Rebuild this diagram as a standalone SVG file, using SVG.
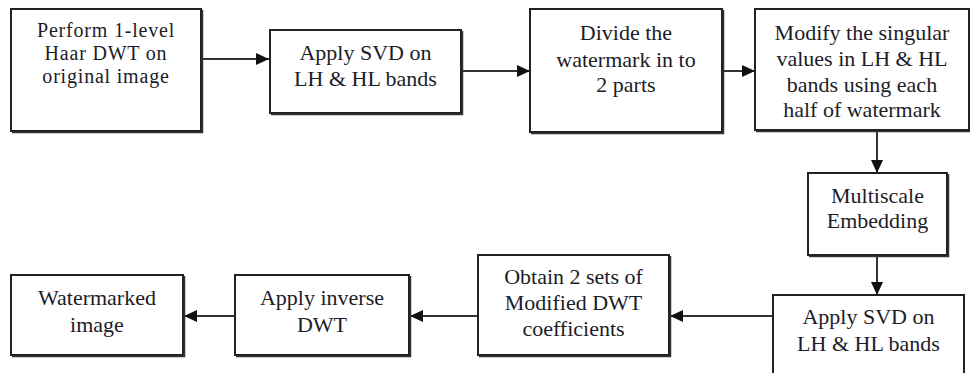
<svg xmlns="http://www.w3.org/2000/svg" width="971" height="373" viewBox="0 0 971 373">
  <style>
    .box { fill: #ffffff; stroke: #222222; stroke-width: 2; }
    .shade { fill: none; stroke: #333333; stroke-width: 1.5; }
    .lbl { font-family: "Liberation Serif", "Times New Roman", serif; font-size: 22px; fill: #1c1c28; text-anchor: middle; }
    .small { font-size: 20px; letter-spacing: 0.8px; }
    .wire { fill: none; stroke: #333333; stroke-width: 2; marker-end: url(#head); }
  </style>
  <defs>
    <marker id="head" markerUnits="userSpaceOnUse" markerWidth="14" markerHeight="12" refX="13" refY="6" orient="auto">
      <path d="M0,0 L13,6 L0,12 Z" fill="#111111"/>
    </marker>
    <clipPath id="cut">
      <rect x="0" y="0" width="971" height="352"/>
    </clipPath>
  </defs>
  <rect width="971" height="373" fill="#ffffff"/>

  <g id="connectors">
    <line class="wire" x1="202" y1="59" x2="269" y2="59"/>
    <line class="wire" x1="462" y1="71" x2="530" y2="71"/>
    <line class="wire" x1="723" y1="71" x2="755" y2="71"/>
    <line class="wire" x1="877" y1="131" x2="877" y2="173"/>
    <line class="wire" x1="877" y1="256" x2="877" y2="295"/>
    <line class="wire" x1="773" y1="316" x2="670" y2="316"/>
    <line class="wire" x1="478" y1="316" x2="410" y2="316"/>
    <line class="wire" x1="235" y1="316" x2="184" y2="316"/>
  </g>

  <g id="haar-dwt">
    <rect class="box" x="11" y="9" width="190" height="122"/>
    <path class="shade" d="M12,132.5 H202.5 V10"/>
    <text class="lbl small" x="106" y="37">Perform 1-level</text>
    <text class="lbl small" x="106" y="60">Haar DWT on</text>
    <text class="lbl small" x="106" y="83">original image</text>
  </g>

  <g id="svd-1">
    <rect class="box" x="270" y="30" width="191" height="83"/>
    <path class="shade" d="M271,114.5 H462.5 V31"/>
    <text class="lbl" x="365.5" y="60">Apply SVD on</text>
    <text class="lbl" x="365.5" y="86">LH &amp; HL bands</text>
  </g>

  <g id="divide">
    <rect class="box" x="530" y="9" width="192" height="123"/>
    <path class="shade" d="M531,133.5 H723.5 V10"/>
    <text class="lbl" x="626" y="40">Divide the</text>
    <text class="lbl" x="626" y="67">watermark in to</text>
    <text class="lbl" x="626" y="92">2 parts</text>
  </g>

  <g id="modify">
    <rect class="box" x="755" y="9" width="214" height="121"/>
    <path class="shade" d="M756,131.5 H970"/>
    <text class="lbl" x="862" y="40">Modify the singular</text>
    <text class="lbl" x="862" y="66">values in LH &amp; HL</text>
    <text class="lbl" x="862" y="92">bands using each</text>
    <text class="lbl" x="862" y="117">half of watermark</text>
  </g>

  <g id="multiscale">
    <rect class="box" x="808" y="173" width="139" height="82"/>
    <path class="shade" d="M809,256.5 H948.5 V174"/>
    <text class="lbl" x="877.5" y="203">Multiscale</text>
    <text class="lbl" x="877.5" y="228">Embedding</text>
  </g>

  <g id="svd-2">
    <rect class="box" x="773" y="295" width="191" height="90"/>
    <g clip-path="url(#cut)">
      <text class="lbl" x="868.5" y="324">Apply SVD on</text>
      <text class="lbl" x="868.5" y="351">LH &amp; HL bands</text>
    </g>
  </g>

  <g id="obtain">
    <rect class="box" x="478" y="255" width="191" height="100"/>
    <path class="shade" d="M479,356.5 H670.5 V256"/>
    <text class="lbl" x="573.5" y="284">Obtain 2 sets of</text>
    <text class="lbl" x="573.5" y="310">Modified DWT</text>
    <text class="lbl" x="573.5" y="336">coefficients</text>
  </g>

  <g id="inverse-dwt">
    <rect class="box" x="235" y="275" width="174" height="80"/>
    <path class="shade" d="M236,356.5 H410.5 V276"/>
    <text class="lbl" x="322" y="305">Apply inverse</text>
    <text class="lbl" x="322" y="332">DWT</text>
  </g>

  <g id="watermarked">
    <rect class="box" x="11" y="275" width="172" height="80"/>
    <path class="shade" d="M12,356.5 H184.5 V276"/>
    <text class="lbl" x="97" y="305">Watermarked</text>
    <text class="lbl" x="97" y="332">image</text>
  </g>
</svg>
